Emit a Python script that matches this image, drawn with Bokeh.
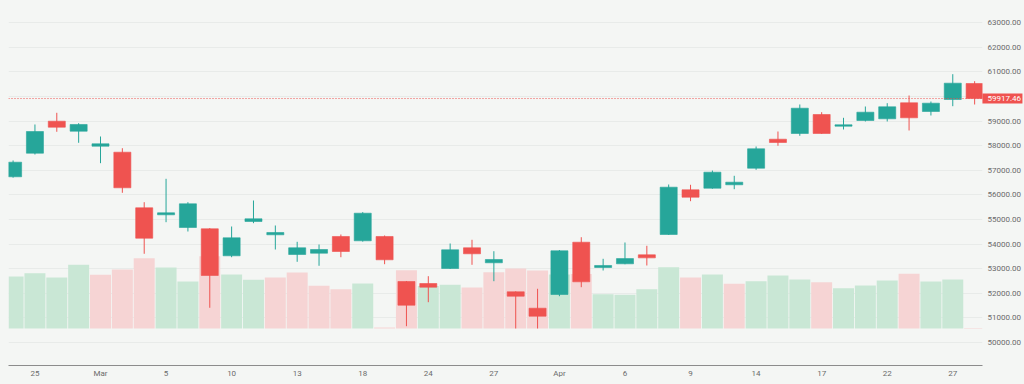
from bokeh.plotting import figure
from bokeh.models import Range1d, FixedTicker, PrintfTickFormatter, Span
from bokeh.core.properties import value
from bokeh.embed import file_html
from bokeh.resources import INLINE

# ---- data ----
opens = [56736, 57695, 58996, 58589, 57980, 57736, 55476, 55191, 54675, 54622,
         53524, 54919, 54378, 53577, 53630, 54309, 54134, 54309, 52480, 52398,
         53008, 53850, 53240, 52061, 51394, 51951, 54077, 53049, 53199, 53565,
         54390, 56207, 56272, 56411, 57085, 58264, 58496, 59268, 58793, 59024,
         59093, 59744, 59390, 59878, 60528]
highs = [57400, 58862, 59337, 58915, 58374, 57898, 55703, 56654, 55703, 54650,
         54715, 55772, 54756, 54093, 53984, 54390, 55300, 54350, 52500, 52695,
         54024, 54175, 53711, 52080, 52183, 53760, 54280, 53402, 54065, 53931,
         56423, 56411, 56990, 56776, 57967, 58577, 59675, 59362, 59134, 59593,
         59728, 60041, 59797, 60907, 60622]
lows = [56700, 57642, 58565, 58118, 57289, 56085, 53606, 54890, 54512, 51411,
        53467, 54850, 53780, 53280, 53118, 53467, 54100, 53183, 50663, 51638,
        52990, 53158, 52492, 50569, 50569, 51882, 52248, 52927, 53180, 53130,
        54370, 55744, 56250, 56232, 57020, 57996, 58402, 58480, 58659, 58984,
        58984, 58618, 59228, 59606, 59675]
closes = [57329, 58577, 58752, 58862, 58077, 56289, 54240, 55272, 55638, 52724,
          54256, 55028, 54472, 53850, 53780, 53699, 55256, 53362, 51516, 52248,
          53768, 53606, 53374, 51882, 51069, 53728, 52467, 53130, 53410, 53440,
          56313, 55906, 56923, 56516, 57874, 58130, 59524, 58496, 58850, 59362,
          59581, 59134, 59728, 60541, 59917.46]
volumes = [52.0, 55.3, 51.0, 63.7, 53.7, 59.0, 70.3, 61.0, 47.0, 72.3,
           54.0, 48.7, 51.0, 56.0, 42.7, 39.3, 45.0, 1.0, 58.3, 42.5,
           43.7, 41.0, 56.3, 60.0, 58.0, 54.0, 54.5, 34.3, 33.7, 39.3,
           61.3, 51.0, 54.0, 44.7, 47.3, 53.0, 49.0, 46.3, 40.3, 43.0,
           48.0, 54.7, 47.0, 49.0, 0.6]
tick_index = [1, 4, 7, 10, 13, 16, 19, 22, 25, 28, 31, 34, 37, 40, 43]
tick_labels = ["25", "Mar", "5", "10", "13", "18", "24", "27", "Apr",
               "6", "9", "14", "17", "22", "27"]
price_ticks = list(range(50000, 63001, 1000))
last_price = closes[-1]

# ---- styling ----
BG = "#f4f6f4"
UP = "#26a69a"
DOWN = "#ef5350"
VOL_UP = "#c9e7d5"
VOL_DOWN = "#f6d4d4"
TXT = "#6b6b6b"
FONT = "Roboto"

idx = list(range(len(closes)))
candle_colors = [UP if c >= o else DOWN for o, c in zip(opens, closes)]
vol_colors = [VOL_UP if (i == 0 or closes[i] >= closes[i - 1]) else VOL_DOWN for i in idx]
body_top = [max(o, c) for o, c in zip(opens, closes)]
body_bot = [min(o, c) for o, c in zip(opens, closes)]

X0, X1 = -0.21, 44.36
Y0, Y1 = 49065, 63577
FRAME_W = 977
px_per_unit = FRAME_W / (X1 - X0)

p = figure(width=1024, height=384,
           x_range=Range1d(X0, X1),
           y_range=Range1d(Y0, Y1),
           y_axis_location="right",
           output_backend="svg", toolbar_location=None,
           min_border_left=8, min_border_top=8,
           min_border_right=39, min_border_bottom=19,
           background_fill_color=BG, border_fill_color=BG,
           outline_line_color=None)

p.extra_y_ranges = {"vol": Range1d(-37, 320)}

# volume
p.vbar(x=idx, top=volumes, bottom=0, width=0.96, fill_color=vol_colors,
       line_color=None, y_range_name="vol")

# candles
p.segment(x0=idx, y0=lows, x1=idx, y1=highs, line_color=candle_colors, line_width=1)
p.vbar(x=idx, top=body_top, bottom=body_bot, width=0.78,
       fill_color=candle_colors, line_color=candle_colors, line_width=0.6)

# last price line
p.add_layout(Span(location=last_price, dimension="width", line_color=DOWN,
                  line_dash="1 2", line_width=1))

# last price tag on the price scale (overlay level so it can sit beside the frame)
p.rect(x=[X1 + 20 / px_per_unit], y=[last_price], width=40, height=10,
       width_units="screen", height_units="screen",
       fill_color=DOWN, line_color=None, level="overlay")
p.text(x=[X1], y=[last_price], text=[f"{last_price:.2f}"], x_offset=5,
       text_font=value(FONT), text_font_size="8px", text_color="white",
       text_baseline="middle", text_align="left", level="overlay")

# grid
p.xgrid.grid_line_color = None
p.ygrid.ticker = FixedTicker(ticks=price_ticks)
p.ygrid.grid_line_color = "#e8ebe9"
p.ygrid.grid_line_width = 1

# y axis (right)
p.yaxis.ticker = FixedTicker(ticks=price_ticks)
p.yaxis.formatter = PrintfTickFormatter(format="%.2f")
p.yaxis.axis_line_color = None
p.yaxis.major_tick_line_color = None
p.yaxis.minor_tick_line_color = None
p.yaxis.major_tick_out = 0
p.yaxis.major_tick_in = 0
p.yaxis.minor_tick_out = 0
p.yaxis.major_label_text_font = FONT
p.yaxis.major_label_text_font_size = "8px"
p.yaxis.major_label_text_color = TXT
p.yaxis.major_label_standoff = 5

# x axis
p.xaxis.ticker = FixedTicker(ticks=tick_index)
p.xaxis.major_label_overrides = {i: lab for i, lab in zip(tick_index, tick_labels)}
p.xaxis.axis_line_color = "#8c8c8c"
p.xaxis.axis_line_width = 1
p.xaxis.major_tick_line_color = None
p.xaxis.minor_tick_line_color = None
p.xaxis.major_tick_out = 0
p.xaxis.major_tick_in = 0
p.xaxis.minor_tick_out = 0
p.xaxis.major_label_text_font = FONT
p.xaxis.major_label_text_font_size = "8px"
p.xaxis.major_label_text_color = TXT
p.xaxis.major_label_standoff = 3

html = file_html(p, INLINE, title="Candlestick chart")
html = html.replace("</head>", "<style>html,body{background-color:%s;}</style></head>" % BG, 1)
open("out.html", "w").write(html)
